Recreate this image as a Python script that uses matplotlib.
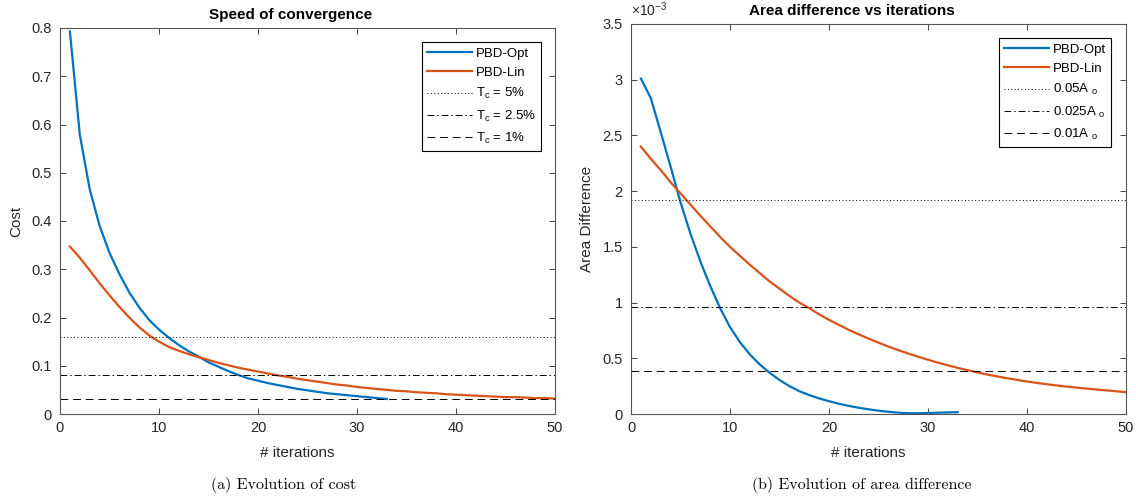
import matplotlib
matplotlib.use("Agg")
from matplotlib import pyplot as plt

plt.rcParams['font.family'] = ['Liberation Sans', 'DejaVu Sans']
plt.rcParams['mathtext.fontset'] = 'custom'
plt.rcParams['mathtext.rm'] = 'Liberation Sans'
plt.rcParams['mathtext.it'] = 'Liberation Sans:italic'

# left panel: cost per iteration
cost_opt = [0.793, 0.579, 0.466, 0.390, 0.334, 0.290, 0.252, 0.221, 0.195, 0.175,
            0.158, 0.143, 0.130, 0.119, 0.107, 0.098, 0.089, 0.081, 0.074, 0.069,
            0.064, 0.060, 0.056, 0.052, 0.049, 0.046, 0.043, 0.041, 0.039, 0.037,
            0.035, 0.033, 0.031]
cost_lin = [0.347, 0.324, 0.298, 0.271, 0.246, 0.222, 0.200, 0.180, 0.163, 0.150,
            0.139, 0.131, 0.124, 0.118, 0.112, 0.106, 0.101, 0.096, 0.092, 0.088,
            0.084, 0.080, 0.077, 0.073, 0.070, 0.067, 0.064, 0.061, 0.059, 0.056,
            0.054, 0.052, 0.050, 0.048, 0.047, 0.045, 0.044, 0.043, 0.041, 0.040,
            0.039, 0.038, 0.037, 0.036, 0.035, 0.035, 0.034, 0.033, 0.033, 0.032]
cost_thresholds = [0.16, 0.08, 0.032]
cost_labels = [r'T$_\mathrm{c}$ = 5%', r'T$_\mathrm{c}$ = 2.5%', r'T$_\mathrm{c}$ = 1%']

# right panel: area difference (x 1e-3)
area_opt = [3.01, 2.835, 2.53, 2.22, 1.90, 1.62, 1.37, 1.15, 0.95, 0.78,
            0.645, 0.535, 0.445, 0.37, 0.305, 0.25, 0.205, 0.17, 0.14, 0.115,
            0.092, 0.073, 0.056, 0.042, 0.030, 0.020, 0.012, 0.007, 0.006, 0.009,
            0.012, 0.014, 0.016]
area_lin = [2.40, 2.29, 2.19, 2.08, 1.98, 1.88, 1.78, 1.685, 1.59, 1.50,
            1.42, 1.34, 1.265, 1.19, 1.125, 1.06, 1.00, 0.95, 0.895, 0.845,
            0.80, 0.755, 0.715, 0.677, 0.64, 0.605, 0.573, 0.543, 0.514, 0.487,
            0.461, 0.437, 0.414, 0.393, 0.373, 0.354, 0.337, 0.321, 0.306, 0.292,
            0.279, 0.267, 0.256, 0.246, 0.237, 0.228, 0.220, 0.212, 0.204, 0.196]
area_thresholds = [1.92, 0.96, 0.384]
area_labels = [r'0.05A $_\mathrm{o}$', r'0.025A $_\mathrm{o}$', r'0.01A $_\mathrm{o}$']

blue = '#0072BD'
orange = '#D95319'
grey = '#262626'
styles = [(0, (1, 2.5)), (0, (7, 3, 1.5, 3)), (0, (8, 5))]

fig = plt.figure(figsize=(11.36, 5.01), dpi=100)
ax1 = fig.add_axes([60 / 1136, 87 / 501, 495 / 1136, 386 / 501])
ax2 = fig.add_axes([631 / 1136, 87 / 501, 495 / 1136, 390 / 501])


def draw(ax, opt, lin, thr, labels, ylim, yticks, ylabel, title, tx, legx):
    ax.plot(range(1, len(opt) + 1), opt, color=blue, lw=1.6, label='PBD-Opt')
    ax.plot(range(1, len(lin) + 1), lin, color=orange, lw=1.6, label='PBD-Lin')
    for t, lab, ls in zip(thr, labels, styles):
        ax.plot([0, 50], [t, t], color='black', lw=0.7, linestyle=ls, label=lab)
    ax.set_xlim(0, 50)
    ax.set_ylim(*ylim)
    ax.set_xticks(range(0, 51, 10))
    ax.set_yticks(yticks)
    ax.set_yticklabels(['0' if v == 0 else ('%g' % v) for v in yticks])
    ax.tick_params(direction='in', top=True, right=True, length=4, width=0.6,
                   colors=grey, labelsize=10.5)
    ax.tick_params(axis='x', pad=5)
    ax.tick_params(axis='y', pad=6)
    for s in ax.spines.values():
        s.set_color('#555555')
        s.set_linewidth(0.8)
    ax.set_xlabel('# iterations', fontsize=11, color=grey)
    ax.xaxis.set_label_coords(0.48, -0.083)
    ax.set_ylabel(ylabel, fontsize=11, color=grey)
    ax.yaxis.set_label_coords(-0.074, 0.5)
    ax.text(tx, 1.015, title, transform=ax.transAxes, ha='center', va='bottom',
            fontsize=11, fontweight='bold')
    leg = ax.legend(loc='upper right', bbox_to_anchor=legx, borderaxespad=0,
                    fontsize=9.5, handlelength=3.4, handletextpad=0.3,
                    labelspacing=0.55, fancybox=False, framealpha=1,
                    borderpad=0.4)
    leg.get_frame().set_edgecolor('black')
    leg.get_frame().set_linewidth(0.8)
    for txt in leg.get_texts():
        txt.set_color('black')


draw(ax1, cost_opt, cost_lin, cost_thresholds, cost_labels, (0, 0.8),
     [0, 0.1, 0.2, 0.3, 0.4, 0.5, 0.6, 0.7, 0.8], 'Cost', 'Speed of convergence',
     0.465, (1 - 14 / 495, 1 - 14 / 386))
draw(ax2, area_opt, area_lin, area_thresholds, area_labels, (0, 3.5),
     [0, 0.5, 1, 1.5, 2, 2.5, 3, 3.5], 'Area Difference',
     'Area difference vs iterations', 0.446, (1 - 15 / 495, 1 - 14 / 390))
ax2.text(0.0, 1.012, r'$\times$10$^{-3}$', transform=ax2.transAxes,
         ha='left', va='bottom', fontsize=10, color=grey)

fig.text(0.25, 0.032, '(a) Evolution of cost', family='cmr10', fontsize=11.5,
         ha='center', va='center')
fig.text(0.759, 0.032, '(b) Evolution of area difference', family='cmr10',
         fontsize=11.5, ha='center', va='center')

fig.savefig('out.png', dpi=100)
